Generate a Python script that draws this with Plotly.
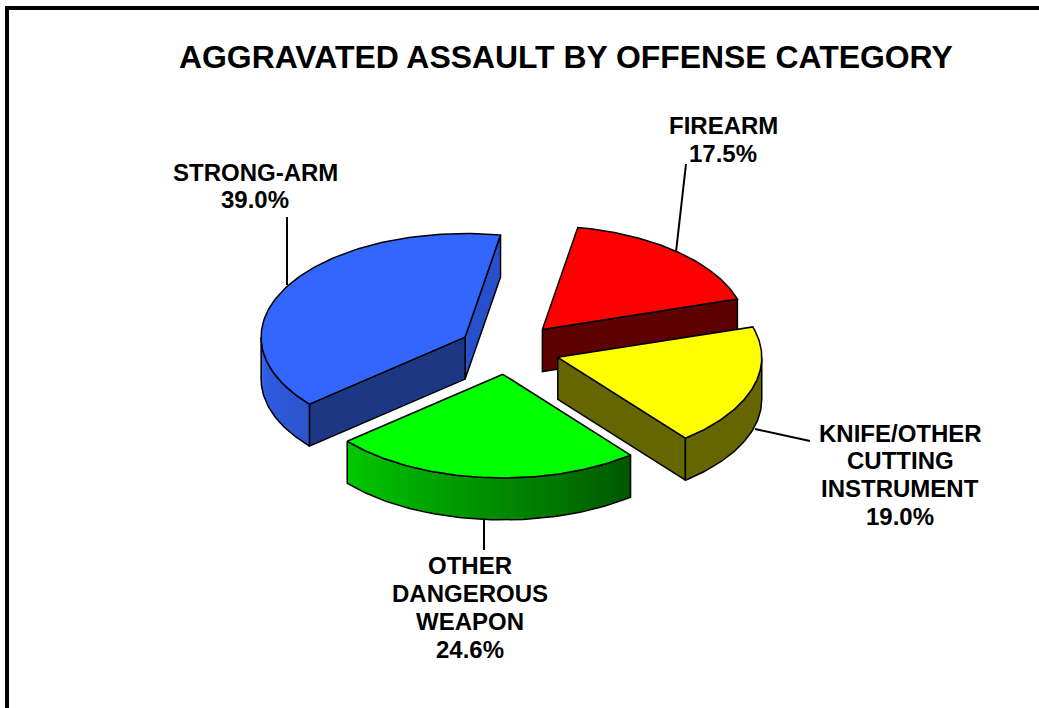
import numpy as np
import plotly.graph_objects as go

categories = ["STRONG-ARM", "OTHER DANGEROUS WEAPON", "KNIFE/OTHER CUTTING INSTRUMENT", "FIREARM"]
shares = [39.0, 24.6, 19.0, 17.5]
title_text = "AGGRAVATED ASSAULT BY OFFENSE CATEGORY"
label_lines = [["STRONG-ARM", "39.0%"], ["OTHER", "DANGEROUS", "WEAPON", "24.6%"],
               ["KNIFE/OTHER", "CUTTING", "INSTRUMENT", "19.0%"], ["FIREARM", "17.5%"]]
top_colors = ["#3366ff", "#00ff00", "#ffff00", "#ff0000"]
edge_colors = ["#1c3885", "#005c00", "#666600", "#5c0000"]
arc_from = [(48, 96, 235), (0, 200, 0), (102, 102, 0), (92, 0, 0)]
arc_to = [(44, 84, 205), (0, 88, 0), (102, 102, 0), (92, 0, 0)]
start_edge_colors = ["#2850cc", "#005c00", "#666600", "#5c0000"]

# layout of the pie
CX, CY, R, TILT, DEPTH, START = 507.6, 349.5, 204, 0.508, 42, 80
pulls = [49, 49, 52.5, 52.5]
label_x = [255, 470, 900, 723]
label_y = [[172, 199], [565.5, 593, 621, 649], [433, 460, 488, 516], [125, 153]]
leaders = [((287, 217), (287, 285)), ((484, 520), (484, 550)),
           ((755, 429), (810, 441)), ((686, 164), (676, 252))]

fig = go.Figure()


def poly(xs, ys, fill, line, width):
    fig.add_trace(go.Scatter(
        x=list(xs), y=list(ys), mode="lines", fill="toself", fillcolor=fill,
        line=dict(color=line, width=width), hoverinfo="skip", showlegend=False))


total = sum(shares)
spans = [s / total * 360 for s in shares]
starts = [START + sum(spans[:i]) for i in range(len(spans))]


def project(cx, cy, deg, radius=R):
    a = np.radians(deg)
    return cx + radius * np.cos(a), cy - radius * TILT * np.sin(a)


def draw_slice(i):
    a0, a1 = starts[i], starts[i] + spans[i]
    mid = np.radians((a0 + a1) / 2)
    cx = CX + pulls[i] * np.cos(mid)
    cy = CY - pulls[i] * TILT * np.sin(mid)
    # flat cut faces, when they turn towards the viewer
    if np.cos(np.radians(a0)) > 0:
        x, y = project(cx, cy, a0)
        poly([cx, x, x, cx, cx], [cy, y, y + DEPTH, cy + DEPTH, cy], start_edge_colors[i], "black", 1.5)
    if np.cos(np.radians(a1)) < 0:
        x, y = project(cx, cy, a1)
        poly([cx, x, x, cx, cx], [cy, y, y + DEPTH, cy + DEPTH, cy], edge_colors[i], "black", 1.5)
    # outer wall: the front half of the rim only
    ranges = [(max(a0, lo), min(a1, lo + 180)) for lo in (-180, 180, 540)]
    for lo, hi in ranges:
        if hi <= lo:
            continue
        n = 40 if arc_from[i] != arc_to[i] else 1
        steps = np.linspace(lo, hi, n + 1)
        for j in range(n):
            t = j / max(n - 1, 1)
            rgb = tuple(int(round(p + (q - p) * t)) for p, q in zip(arc_from[i], arc_to[i]))
            c = f"rgb{rgb}"
            # each strip runs under the next one, so no seam shows through
            arc = np.linspace(steps[j], steps[min(j + 2, n)], 12)
            xs, ys = project(cx, cy, arc)
            poly(list(xs) + list(xs[::-1]) + [xs[0]],
                 list(ys) + list(ys[::-1] + DEPTH) + [ys[0]], c, c, 0)
        arc = np.linspace(lo, hi, 60)
        xs, ys = project(cx, cy, arc)
        xo = list(xs) + list(xs[::-1]) + [xs[0]]
        yo = list(ys) + list(ys[::-1] + DEPTH) + [ys[0]]
        fig.add_trace(go.Scatter(x=xo, y=yo, mode="lines", line=dict(color="black", width=1.5),
                                 hoverinfo="skip", showlegend=False))
    # top face
    arc = np.linspace(a0, a1, 120)
    xs, ys = project(cx, cy, arc)
    poly([cx] + list(xs) + [cx], [cy] + list(ys) + [cy], top_colors[i], "black", 1.5)


for i in [3, 0, 1, 2]:
    draw_slice(i)

shapes = []
for (x0, y0), (x1, y1) in leaders:
    shapes.append(dict(type="line", x0=x0, y0=y0, x1=x1, y1=y1, xref="x", yref="y",
                       line=dict(color="black", width=2), layer="below"))
# page frame
shapes.append(dict(type="line", x0=7, y0=8, x1=1039, y1=8, xref="x", yref="y", line=dict(color="black", width=4)))
shapes.append(dict(type="line", x0=7, y0=6, x1=7, y1=708, xref="x", yref="y", line=dict(color="black", width=4)))

annotations = [dict(text=f"<b>{title_text}</b>", x=566, y=57, xref="x", yref="y", showarrow=False,
                    xanchor="center", yanchor="middle",
                    font=dict(family="Liberation Sans", size=31.9, color="black"))]
for lines, lx, ys in zip(label_lines, label_x, label_y):
    for text, ly in zip(lines, ys):
        annotations.append(dict(text=f"<b>{text}</b>", x=lx, y=ly, xref="x", yref="y", showarrow=False,
                                xanchor="center", yanchor="middle",
                                font=dict(family="Liberation Sans", size=24, color="black")))

fig.update_layout(
    width=1039, height=708, margin=dict(l=0, r=0, t=0, b=0),
    paper_bgcolor="white", plot_bgcolor="white", showlegend=False,
    xaxis=dict(range=[0, 1039], visible=False, fixedrange=True),
    yaxis=dict(range=[708, 0], visible=False, fixedrange=True),
    shapes=shapes, annotations=annotations)
fig.write_html("out.html", config=dict(displayModeBar=False),
               post_script="document.body.style.margin='0';document.body.style.overflow='hidden';")
